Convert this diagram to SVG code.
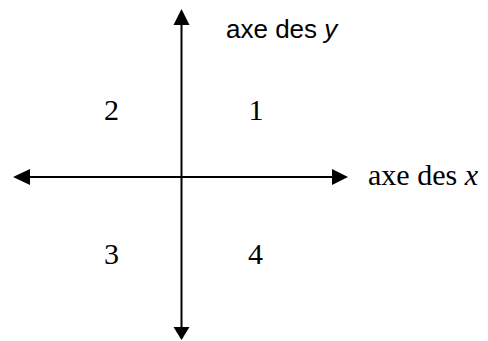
<svg xmlns="http://www.w3.org/2000/svg" width="488" height="341" viewBox="0 0 488 341">
<style>
.ax{stroke:#000;stroke-width:2;fill:none}
.hd{fill:#000;stroke:none}
.tm{font-family:"Liberation Serif","Times New Roman",serif;font-size:30px;fill:#000}
.ar{font-family:"Liberation Sans",Arial,sans-serif;font-size:26px;fill:#000}
</style>
<rect width="488" height="341" fill="#fff"/>
<g id="connectors">
<line class="ax" x1="181.5" y1="20" x2="181.5" y2="330"/>
<polygon class="hd" points="181.5,9 173.5,25 189.5,25"/>
<polygon class="hd" points="181.5,340 173.5,327 189.5,327"/>
<line class="ax" x1="25" y1="177" x2="338" y2="177"/>
<polygon class="hd" points="13,177 30,169 30,185"/>
<polygon class="hd" points="348,177 332,169 332,185"/>
</g>
<g id="label-y"><text class="ar" x="226" y="38">axe des <tspan font-style="italic">y</tspan></text></g>
<g id="label-x"><text class="tm" x="368" y="185" font-size="32">axe des <tspan font-style="italic">x</tspan></text></g>
<g id="q1"><text class="tm" x="256" y="120" text-anchor="middle">1</text></g>
<g id="q2"><text class="tm" x="111.5" y="120" text-anchor="middle">2</text></g>
<g id="q3"><text class="tm" x="111.5" y="264" text-anchor="middle">3</text></g>
<g id="q4"><text class="tm" x="255.5" y="264" text-anchor="middle">4</text></g>
</svg>
